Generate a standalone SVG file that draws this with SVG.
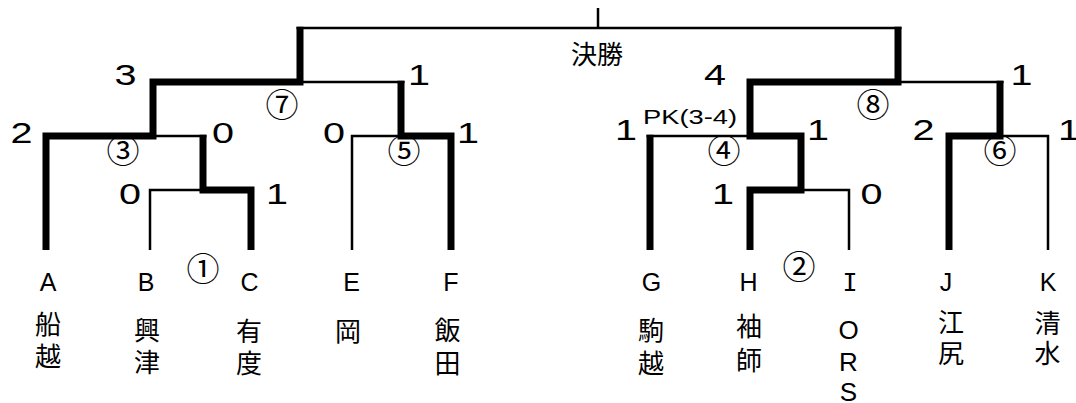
<svg xmlns="http://www.w3.org/2000/svg" width="1076" height="403" viewBox="0 0 1076 403">
<style>
.thick{fill:none;stroke:#000;stroke-width:7;stroke-linejoin:miter;stroke-linecap:butt}
.thin{fill:none;stroke:#000;stroke-width:2.5;stroke-linecap:butt}
.score{font-family:"Liberation Sans",Arial,sans-serif;font-size:29px;text-anchor:middle;fill:#000}
.circ{font-family:"Noto Sans CJK JP","DejaVu Sans",sans-serif;font-size:33px;text-anchor:middle;fill:#000}
.team{font-family:"Liberation Sans",Arial,sans-serif;font-size:25px;text-anchor:middle;fill:#000}
.ors{font-family:"Liberation Sans",Arial,sans-serif;font-size:26px;text-anchor:middle;fill:#000}
.kanji{font-family:"Noto Sans CJK JP",sans-serif;font-size:26px;text-anchor:middle;fill:#000}
.title{font-family:"Noto Sans CJK JP",sans-serif;font-size:26px;text-anchor:middle;fill:#000}
.pk{font-family:"Liberation Sans",Arial,sans-serif;font-size:21px;fill:#000}
</style>
<rect width="1076" height="403" fill="#fff"/>
<g id="connectors">
<path class="thin" d="M598,8 V28"/>
<path class="thin" d="M296.5,28 H901.5"/>
<path class="thin" d="M300,82 H404.5"/>
<path class="thin" d="M898,82 H1003.5"/>
<path class="thin" d="M153,136 H206.5"/>
<path class="thin" d="M150,250 V190 H203"/>
<path class="thin" d="M352,250 V136 H401"/>
<path class="thin" d="M646.5,136 H750"/>
<path class="thin" d="M849,250 V190 H801"/>
<path class="thin" d="M1048,250 V136 H1000"/>
<path class="thick" d="M46,250 V136 H153 V82 H300 V26.8"/>
<path class="thick" d="M251,250 V190 H203 V134.75"/>
<path class="thick" d="M451,250 V136 H401 V80.75"/>
<path class="thick" d="M898,26.8 V82 H750 V136 H801 V190 H750 V250"/>
<path class="thick" d="M650,250 V134.75"/>
<path class="thick" d="M949,250 V136 H1000 V80.75"/>
</g>
<g id="final"><text class="title" x="597" y="64">決勝</text></g>
<g id="matches">
<text class="circ" x="203" y="281">①</text>
<text class="circ" x="799" y="279">②</text>
<text class="circ" x="123" y="163">③</text>
<text class="circ" x="724" y="163">④</text>
<text class="circ" x="404" y="163">⑤</text>
<text class="circ" x="1000" y="163">⑥</text>
<text class="circ" x="282" y="117">⑦</text>
<text class="circ" x="873" y="117">⑧</text>
</g>
<g id="scores">
<text class="score" x="125.5" y="85" textLength="22" lengthAdjust="spacingAndGlyphs">3</text>
<text class="score" x="419" y="85" textLength="22" lengthAdjust="spacingAndGlyphs">1</text>
<text class="score" x="715" y="85" textLength="22" lengthAdjust="spacingAndGlyphs">4</text>
<text class="score" x="1021.5" y="85" textLength="22" lengthAdjust="spacingAndGlyphs">1</text>
<text class="score" x="21.5" y="143" textLength="22" lengthAdjust="spacingAndGlyphs">2</text>
<text class="score" x="223" y="143" textLength="22" lengthAdjust="spacingAndGlyphs">0</text>
<text class="score" x="334" y="143" textLength="22" lengthAdjust="spacingAndGlyphs">0</text>
<text class="score" x="468" y="143" textLength="22" lengthAdjust="spacingAndGlyphs">1</text>
<text class="score" x="626" y="140" textLength="22" lengthAdjust="spacingAndGlyphs">1</text>
<text class="score" x="818" y="140" textLength="22" lengthAdjust="spacingAndGlyphs">1</text>
<text class="score" x="923.5" y="140" textLength="22" lengthAdjust="spacingAndGlyphs">2</text>
<text class="score" x="1069" y="140" textLength="22" lengthAdjust="spacingAndGlyphs">1</text>
<text class="score" x="130" y="204" textLength="22" lengthAdjust="spacingAndGlyphs">0</text>
<text class="score" x="277" y="204" textLength="22" lengthAdjust="spacingAndGlyphs">1</text>
<text class="score" x="723" y="204" textLength="22" lengthAdjust="spacingAndGlyphs">1</text>
<text class="score" x="871.5" y="204" textLength="22" lengthAdjust="spacingAndGlyphs">0</text>
<text class="pk" x="643" y="124" textLength="94" lengthAdjust="spacingAndGlyphs">PK(3-4)</text>
</g>
<g id="team-A"><text class="team" x="48" y="291">A</text><text class="kanji" x="48" y="334">船</text><text class="kanji" x="48" y="366">越</text></g>
<g id="team-B"><text class="team" x="146" y="291">B</text><text class="kanji" x="147" y="340">興</text><text class="kanji" x="147" y="372">津</text></g>
<g id="team-C"><text class="team" x="249.5" y="291">C</text><text class="kanji" x="249" y="341">有</text><text class="kanji" x="249" y="373">度</text></g>
<g id="team-E"><text class="team" x="351.5" y="291">E</text><text class="kanji" x="348" y="341">岡</text></g>
<g id="team-F"><text class="team" x="451" y="291">F</text><text class="kanji" x="447.5" y="340">飯</text><text class="kanji" x="447.5" y="373">田</text></g>
<g id="team-G"><text class="team" x="651.5" y="291">G</text><text class="kanji" x="651" y="340">駒</text><text class="kanji" x="651" y="373">越</text></g>
<g id="team-H"><text class="team" x="748.5" y="291">H</text><text class="kanji" x="749" y="336">袖</text><text class="kanji" x="749" y="369.5">師</text></g>
<g id="team-I"><text class="team" x="850" y="291" style="font-family:'DejaVu Sans Mono',monospace">I</text><text class="ors" x="848.5" y="339">O</text><text class="ors" x="848.5" y="371">R</text><text class="ors" x="848.5" y="401">S</text></g>
<g id="team-J"><text class="team" x="946" y="291">J</text><text class="kanji" x="951" y="332">江</text><text class="kanji" x="951" y="363">尻</text></g>
<g id="team-K"><text class="team" x="1048" y="291">K</text><text class="kanji" x="1047.5" y="333">清</text><text class="kanji" x="1047.5" y="363">水</text></g>
</svg>
